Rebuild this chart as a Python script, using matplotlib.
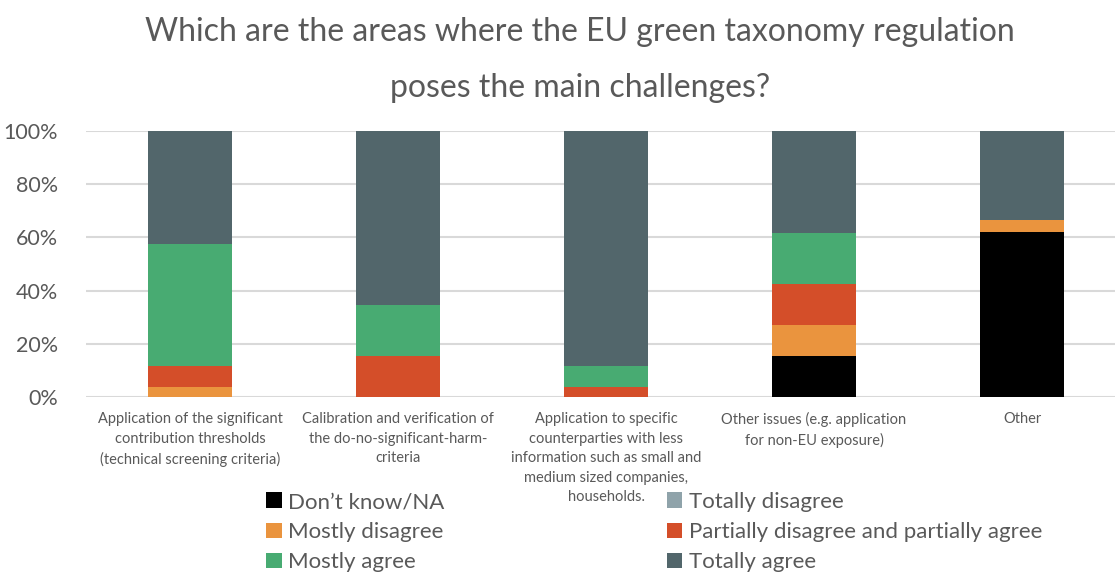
import matplotlib
matplotlib.use("Agg")
import matplotlib.pyplot as plt
import numpy as np
from matplotlib.patches import Patch

plt.rcParams.update({"font.family": ["Lato", "DejaVu Sans"]})

TEXT = "#595959"

categories = [
    "Application of the significant\ncontribution thresholds\n(technical screening criteria)",
    "Calibration and verification of\nthe do-no-significant-harm-\ncriteria",
    "Application to specific\ncounterparties with less\ninformation such as small and\nmedium sized companies,\nhouseholds.",
    "Other issues (e.g. application\nfor non-EU exposure)",
    "Other",
]
series = ["Don\u2019t know/NA", "Totally disagree", "Mostly disagree",
          "Partially disagree and partially agree", "Mostly agree", "Totally agree"]
colors = ["#000000", "#8FA3AA", "#EA943E", "#D44E29", "#48AB72", "#52666B"]

dont_know = [0.0, 0.0, 0.0, 15.4, 61.9]
totally_disagree = [0.0, 0.0, 0.0, 0.0, 0.0]
mostly_disagree = [3.8, 0.0, 0.0, 11.5, 4.8]
partially = [7.7, 15.4, 3.8, 15.4, 0.0]
mostly_agree = [46.2, 19.2, 7.7, 19.2, 0.0]
totally_agree = [42.3, 65.4, 88.5, 38.5, 33.3]
values = [dont_know, totally_disagree, mostly_disagree, partially,
          mostly_agree, totally_agree]

fig = plt.figure(figsize=(11.15, 5.73), dpi=100)
ax = fig.add_axes([86/1115, 176/573, 1040/1115, 266/573])

x = np.arange(len(categories))
bottom = np.zeros(len(categories))
for name, vals, c in zip(series, values, colors):
    ax.bar(x, vals, 0.4, bottom=bottom, color=c, label=name, zorder=3)
    bottom += np.array(vals)

ax.set_xlim(-0.5, 4.5)
ax.set_ylim(0, 100)
ax.set_yticks(np.arange(0, 101, 20))
ax.set_yticklabels([f"{v}%" for v in range(0, 101, 20)], fontsize=15.5, color=TEXT)
ax.yaxis.grid(True, color="#D9D9D9", linewidth=1.5, zorder=0)
ax.set_axisbelow(True)
for s in ax.spines.values():
    s.set_visible(False)
ax.tick_params(length=0)
ax.tick_params(axis="y", pad=20)
ax.set_xticks(x)
ax.set_xticklabels(categories, fontsize=10.5, color=TEXT, va="top",
                   linespacing=1.5)
ax.tick_params(axis="x", pad=11)

fig.text(0.52, 0.944, "Which are the areas where the EU green taxonomy regulation",
         ha="center", va="center", fontsize=23, color=TEXT)
fig.text(0.52, 0.847, "poses the main challenges?",
         ha="center", va="center", fontsize=23, color=TEXT)

handles = [Patch(facecolor=c) for c in colors]
order = [0, 2, 4, 1, 3, 5]
fig.legend([handles[i] for i in order], [series[i] for i in order],
           ncol=2, loc="lower left", bbox_to_anchor=(246/1115, -0.034),
           frameon=False, fontsize=16, labelcolor=TEXT,
           handlelength=0.7, handleheight=0.7, handletextpad=0.3,
           columnspacing=10.0, labelspacing=0.46)

fig.savefig("out.png", dpi=100)
